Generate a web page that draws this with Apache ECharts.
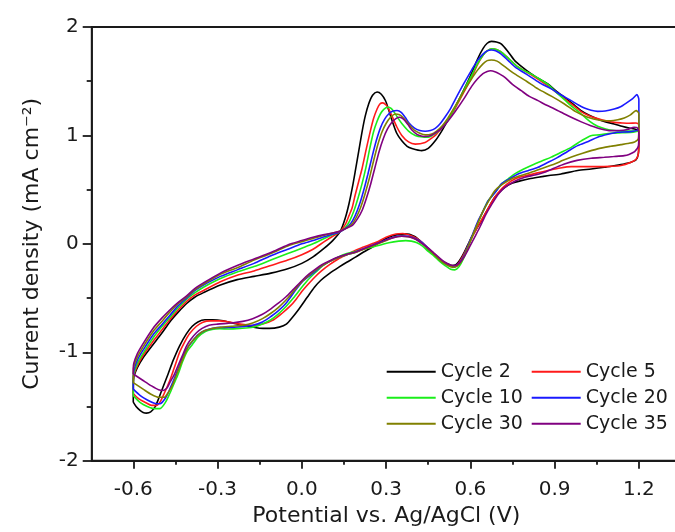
<!DOCTYPE html>
<html><head><meta charset="utf-8">
<script src="https://cdn.jsdelivr.net/npm/echarts@6/dist/echarts.min.js"></script>
<style>html,body{margin:0;padding:0;background:#fff}#c{width:675px;height:532px}</style>
</head><body><div id="c"></div>
<script>
const seriesNames = ['Cycle 2','Cycle 5','Cycle 10','Cycle 20','Cycle 30','Cycle 35'];
const xTickLabels = [-0.6,-0.3,0,0.3,0.6,0.9,1.2];
const xMinorTicks = [-0.45,-0.15,0.15,0.45,0.75,1.05];
const yTickLabels = [-2,-1,0,1,2];

const cycle2 = [[-0.600,-1.46],[-0.600,-1.35],[-0.598,-1.23],[-0.585,-1.14],[-0.565,-1.05],[-0.53,-0.93],[-0.50,-0.83],[-0.47,-0.72],[-0.44,-0.63],[-0.41,-0.55],[-0.38,-0.49],[-0.35,-0.45],[-0.29,-0.38],[-0.23,-0.33],[-0.17,-0.30],[-0.11,-0.27],[-0.05,-0.23],[0.0,-0.18],[0.04,-0.12],[0.08,-0.04],[0.11,0.03],[0.138,0.12],[0.155,0.24],[0.168,0.37],[0.18,0.52],[0.191,0.68],[0.203,0.86],[0.215,1.04],[0.226,1.18],[0.238,1.29],[0.252,1.37],[0.268,1.40],[0.283,1.38],[0.298,1.32],[0.31,1.23],[0.321,1.14],[0.338,1.02],[0.356,0.95],[0.375,0.90],[0.392,0.88],[0.427,0.86],[0.45,0.88],[0.475,0.95],[0.498,1.04],[0.52,1.14],[0.546,1.26],[0.575,1.41],[0.604,1.57],[0.625,1.70],[0.645,1.80],[0.66,1.85],[0.675,1.867],[0.693,1.862],[0.711,1.843],[0.735,1.77],[0.758,1.69],[0.785,1.63],[0.817,1.567],[0.846,1.52],[0.876,1.475],[0.905,1.41],[0.935,1.351],[0.965,1.29],[0.994,1.229],[1.025,1.185],[1.053,1.152],[1.082,1.125],[1.112,1.106],[1.14,1.085],[1.165,1.068],[1.19,1.055],[1.2,1.04],[1.2,0.93],[1.198,0.83],[1.19,0.775],[1.17,0.75],[1.148,0.737],[1.11,0.72],[1.077,0.706],[1.03,0.69],[0.982,0.676],[0.923,0.645],[0.88,0.63],[0.841,0.614],[0.81,0.6],[0.781,0.583],[0.75,0.56],[0.723,0.522],[0.705,0.48],[0.687,0.43],[0.664,0.33],[0.64,0.215],[0.62,0.13],[0.60,0.04],[0.58,-0.07],[0.565,-0.14],[0.55,-0.19],[0.534,-0.20],[0.515,-0.18],[0.498,-0.154],[0.474,-0.108],[0.45,-0.05],[0.427,0.015],[0.40,0.07],[0.368,0.092],[0.34,0.085],[0.309,0.061],[0.28,0.02],[0.25,-0.031],[0.22,-0.075],[0.191,-0.123],[0.16,-0.17],[0.132,-0.215],[0.10,-0.27],[0.067,-0.338],[0.045,-0.40],[0.02,-0.49],[-0.01,-0.60],[-0.033,-0.676],[-0.055,-0.74],[-0.08,-0.768],[-0.115,-0.78],[-0.151,-0.778],[-0.19,-0.76],[-0.234,-0.737],[-0.28,-0.71],[-0.317,-0.70],[-0.345,-0.70],[-0.37,-0.72],[-0.39,-0.76],[-0.411,-0.83],[-0.435,-0.94],[-0.458,-1.075],[-0.476,-1.2],[-0.494,-1.32],[-0.51,-1.43],[-0.523,-1.506],[-0.538,-1.55],[-0.553,-1.561],[-0.565,-1.555],[-0.576,-1.536],[-0.59,-1.50],[-0.600,-1.46]];

const cycle5 = [[-0.600,-1.38],[-0.600,-1.30],[-0.598,-1.21],[-0.585,-1.12],[-0.565,-1.03],[-0.53,-0.90],[-0.50,-0.80],[-0.47,-0.70],[-0.44,-0.61],[-0.41,-0.53],[-0.38,-0.47],[-0.35,-0.43],[-0.29,-0.35],[-0.23,-0.29],[-0.17,-0.25],[-0.11,-0.20],[-0.05,-0.15],[0.0,-0.10],[0.04,-0.05],[0.08,0.02],[0.11,0.07],[0.135,0.11],[0.155,0.18],[0.168,0.26],[0.179,0.33],[0.19,0.45],[0.203,0.58],[0.215,0.70],[0.23,0.88],[0.244,1.04],[0.256,1.16],[0.268,1.244],[0.278,1.29],[0.288,1.30],[0.30,1.28],[0.31,1.24],[0.321,1.18],[0.338,1.08],[0.356,1.00],[0.38,0.94],[0.404,0.92],[0.439,0.935],[0.46,0.97],[0.475,1.00],[0.498,1.07],[0.522,1.15],[0.546,1.25],[0.575,1.39],[0.604,1.53],[0.625,1.65],[0.645,1.74],[0.66,1.78],[0.678,1.80],[0.695,1.79],[0.715,1.76],[0.74,1.70],[0.765,1.64],[0.79,1.60],[0.817,1.56],[0.846,1.51],[0.876,1.46],[0.905,1.40],[0.935,1.34],[0.965,1.28],[0.994,1.22],[1.025,1.18],[1.053,1.155],[1.082,1.135],[1.112,1.12],[1.14,1.115],[1.165,1.112],[1.19,1.115],[1.2,1.10],[1.2,0.95],[1.198,0.83],[1.19,0.78],[1.17,0.75],[1.136,0.722],[1.10,0.715],[1.053,0.712],[1.0,0.712],[0.959,0.712],[0.92,0.70],[0.876,0.676],[0.84,0.655],[0.80,0.63],[0.76,0.60],[0.73,0.55],[0.705,0.49],[0.687,0.43],[0.664,0.33],[0.64,0.22],[0.62,0.13],[0.60,0.03],[0.58,-0.08],[0.565,-0.15],[0.55,-0.20],[0.535,-0.21],[0.515,-0.19],[0.50,-0.16],[0.475,-0.10],[0.45,-0.04],[0.43,0.01],[0.41,0.05],[0.385,0.08],[0.36,0.095],[0.335,0.09],[0.30,0.06],[0.27,0.02],[0.25,0.00],[0.22,-0.03],[0.19,-0.06],[0.16,-0.10],[0.13,-0.14],[0.10,-0.19],[0.07,-0.25],[0.045,-0.31],[0.02,-0.38],[0.0,-0.44],[-0.02,-0.51],[-0.04,-0.57],[-0.07,-0.64],[-0.10,-0.70],[-0.14,-0.74],[-0.175,-0.753],[-0.22,-0.74],[-0.26,-0.72],[-0.293,-0.71],[-0.325,-0.71],[-0.352,-0.722],[-0.375,-0.76],[-0.40,-0.83],[-0.42,-0.92],[-0.435,-1.0],[-0.455,-1.15],[-0.47,-1.26],[-0.49,-1.38],[-0.505,-1.46],[-0.517,-1.49],[-0.535,-1.49],[-0.555,-1.465],[-0.58,-1.43],[-0.600,-1.38]];

const cycle10 = [[-0.600,-1.40],[-0.600,-1.30],[-0.598,-1.20],[-0.585,-1.10],[-0.565,-1.01],[-0.53,-0.87],[-0.50,-0.77],[-0.47,-0.68],[-0.44,-0.59],[-0.41,-0.51],[-0.38,-0.45],[-0.35,-0.40],[-0.29,-0.32],[-0.23,-0.26],[-0.17,-0.21],[-0.11,-0.15],[-0.05,-0.09],[0.0,-0.04],[0.04,0.0],[0.08,0.05],[0.11,0.085],[0.135,0.11],[0.155,0.15],[0.17,0.21],[0.185,0.30],[0.20,0.42],[0.215,0.56],[0.228,0.70],[0.242,0.88],[0.255,1.03],[0.268,1.13],[0.28,1.20],[0.292,1.24],[0.305,1.26],[0.318,1.25],[0.33,1.21],[0.345,1.15],[0.356,1.11],[0.38,1.04],[0.404,1.00],[0.43,0.985],[0.451,0.983],[0.47,1.01],[0.486,1.04],[0.51,1.11],[0.535,1.21],[0.56,1.33],[0.585,1.46],[0.604,1.55],[0.625,1.66],[0.645,1.74],[0.66,1.78],[0.678,1.80],[0.695,1.79],[0.715,1.76],[0.74,1.70],[0.765,1.64],[0.79,1.60],[0.817,1.565],[0.846,1.52],[0.876,1.47],[0.905,1.40],[0.935,1.33],[0.965,1.26],[0.994,1.20],[1.025,1.13],[1.053,1.085],[1.082,1.06],[1.112,1.045],[1.14,1.04],[1.165,1.04],[1.185,1.04],[1.2,1.04],[1.18,1.03],[1.14,1.025],[1.1,1.02],[1.06,1.005],[1.029,0.998],[0.995,0.95],[0.959,0.89],[0.92,0.84],[0.888,0.80],[0.86,0.77],[0.829,0.737],[0.79,0.69],[0.758,0.645],[0.735,0.60],[0.711,0.553],[0.69,0.48],[0.664,0.40],[0.645,0.30],[0.628,0.20],[0.61,0.09],[0.59,-0.04],[0.575,-0.14],[0.56,-0.21],[0.545,-0.24],[0.53,-0.235],[0.51,-0.20],[0.49,-0.16],[0.47,-0.11],[0.45,-0.07],[0.43,-0.02],[0.41,0.01],[0.39,0.025],[0.37,0.03],[0.345,0.025],[0.31,0.01],[0.28,-0.01],[0.25,-0.03],[0.22,-0.05],[0.19,-0.07],[0.16,-0.09],[0.13,-0.12],[0.10,-0.16],[0.075,-0.20],[0.05,-0.26],[0.02,-0.338],[0.0,-0.40],[-0.03,-0.50],[-0.057,-0.58],[-0.085,-0.65],[-0.11,-0.70],[-0.14,-0.74],[-0.175,-0.77],[-0.22,-0.78],[-0.26,-0.785],[-0.293,-0.783],[-0.32,-0.79],[-0.345,-0.81],[-0.37,-0.86],[-0.39,-0.93],[-0.41,-1.00],[-0.425,-1.09],[-0.44,-1.2],[-0.455,-1.29],[-0.47,-1.38],[-0.485,-1.46],[-0.505,-1.52],[-0.525,-1.52],[-0.55,-1.50],[-0.575,-1.465],[-0.600,-1.40]];

const cycle20 = [[-0.600,-1.34],[-0.600,-1.25],[-0.598,-1.17],[-0.585,-1.07],[-0.565,-0.98],[-0.53,-0.84],[-0.50,-0.75],[-0.47,-0.66],[-0.44,-0.57],[-0.41,-0.50],[-0.38,-0.43],[-0.35,-0.38],[-0.29,-0.30],[-0.23,-0.24],[-0.17,-0.18],[-0.11,-0.11],[-0.05,-0.05],[0.0,0.0],[0.04,0.03],[0.08,0.065],[0.11,0.09],[0.135,0.11],[0.155,0.14],[0.175,0.19],[0.19,0.26],[0.205,0.36],[0.22,0.49],[0.235,0.64],[0.25,0.80],[0.265,0.95],[0.28,1.07],[0.295,1.15],[0.31,1.20],[0.325,1.225],[0.339,1.23],[0.355,1.21],[0.37,1.16],[0.38,1.12],[0.40,1.07],[0.42,1.045],[0.439,1.038],[0.458,1.045],[0.475,1.065],[0.49,1.10],[0.51,1.17],[0.53,1.25],[0.546,1.33],[0.575,1.47],[0.604,1.60],[0.625,1.69],[0.645,1.75],[0.66,1.78],[0.675,1.788],[0.69,1.78],[0.71,1.75],[0.735,1.69],[0.76,1.63],[0.79,1.58],[0.817,1.536],[0.85,1.48],[0.888,1.429],[0.925,1.37],[0.959,1.321],[0.985,1.28],[1.006,1.253],[1.03,1.232],[1.053,1.222],[1.08,1.225],[1.112,1.244],[1.135,1.265],[1.159,1.305],[1.178,1.34],[1.193,1.376],[1.2,1.33],[1.2,1.20],[1.2,1.10],[1.195,1.05],[1.17,1.035],[1.124,1.029],[1.09,1.01],[1.053,0.983],[1.02,0.945],[0.982,0.906],[0.945,0.85],[0.911,0.798],[0.875,0.75],[0.841,0.706],[0.805,0.675],[0.77,0.645],[0.74,0.60],[0.711,0.553],[0.69,0.48],[0.664,0.399],[0.645,0.30],[0.628,0.215],[0.61,0.10],[0.59,-0.03],[0.575,-0.12],[0.56,-0.18],[0.545,-0.21],[0.53,-0.205],[0.51,-0.18],[0.49,-0.14],[0.47,-0.09],[0.45,-0.04],[0.43,0.01],[0.404,0.05],[0.38,0.07],[0.356,0.075],[0.33,0.065],[0.309,0.046],[0.28,0.015],[0.25,-0.015],[0.22,-0.045],[0.191,-0.077],[0.16,-0.10],[0.132,-0.123],[0.10,-0.16],[0.073,-0.2],[0.05,-0.25],[0.025,-0.3],[0.005,-0.34],[-0.02,-0.42],[-0.057,-0.55],[-0.085,-0.62],[-0.11,-0.67],[-0.14,-0.72],[-0.175,-0.75],[-0.22,-0.765],[-0.26,-0.77],[-0.29,-0.77],[-0.32,-0.78],[-0.345,-0.80],[-0.37,-0.84],[-0.39,-0.90],[-0.41,-0.97],[-0.425,-1.05],[-0.44,-1.15],[-0.455,-1.25],[-0.47,-1.34],[-0.485,-1.42],[-0.505,-1.475],[-0.525,-1.47],[-0.55,-1.44],[-0.575,-1.40],[-0.600,-1.34]];

const cycle30 = [[-0.600,-1.28],[-0.600,-1.20],[-0.598,-1.13],[-0.585,-1.04],[-0.565,-0.95],[-0.53,-0.81],[-0.50,-0.72],[-0.47,-0.63],[-0.44,-0.55],[-0.41,-0.49],[-0.38,-0.42],[-0.35,-0.37],[-0.29,-0.28],[-0.23,-0.22],[-0.17,-0.15],[-0.11,-0.09],[-0.05,-0.02],[0.0,0.02],[0.04,0.05],[0.08,0.08],[0.11,0.10],[0.135,0.115],[0.155,0.14],[0.178,0.18],[0.195,0.25],[0.21,0.34],[0.225,0.46],[0.24,0.60],[0.255,0.76],[0.27,0.91],[0.285,1.03],[0.3,1.11],[0.315,1.165],[0.333,1.198],[0.348,1.19],[0.362,1.16],[0.38,1.105],[0.40,1.05],[0.42,1.02],[0.44,1.005],[0.46,1.01],[0.48,1.04],[0.5,1.09],[0.52,1.16],[0.546,1.27],[0.575,1.40],[0.604,1.52],[0.625,1.60],[0.645,1.66],[0.66,1.69],[0.675,1.696],[0.695,1.685],[0.72,1.64],[0.74,1.60],[0.758,1.567],[0.8,1.50],[0.841,1.429],[0.89,1.36],[0.935,1.29],[0.975,1.22],[1.018,1.167],[1.06,1.14],[1.1,1.136],[1.125,1.145],[1.148,1.161],[1.17,1.19],[1.19,1.229],[1.2,1.20],[1.2,1.08],[1.198,0.97],[1.185,0.94],[1.16,0.925],[1.136,0.915],[1.1,0.90],[1.053,0.876],[1.0,0.835],[0.96,0.80],[0.93,0.77],[0.9,0.737],[0.86,0.70],[0.817,0.66],[0.78,0.63],[0.746,0.599],[0.715,0.55],[0.687,0.49],[0.664,0.39],[0.645,0.30],[0.628,0.20],[0.61,0.09],[0.59,-0.04],[0.575,-0.13],[0.56,-0.19],[0.545,-0.215],[0.53,-0.21],[0.51,-0.185],[0.49,-0.145],[0.47,-0.095],[0.45,-0.045],[0.43,0.0],[0.404,0.045],[0.38,0.065],[0.356,0.07],[0.33,0.06],[0.309,0.04],[0.28,0.01],[0.25,-0.02],[0.22,-0.05],[0.191,-0.08],[0.16,-0.10],[0.132,-0.125],[0.10,-0.16],[0.073,-0.2],[0.05,-0.24],[0.025,-0.29],[0.0,-0.35],[-0.03,-0.44],[-0.057,-0.52],[-0.085,-0.59],[-0.11,-0.64],[-0.14,-0.69],[-0.175,-0.73],[-0.21,-0.75],[-0.25,-0.76],[-0.29,-0.77],[-0.32,-0.78],[-0.345,-0.80],[-0.36,-0.82],[-0.38,-0.87],[-0.40,-0.93],[-0.415,-1.01],[-0.43,-1.10],[-0.445,-1.2],[-0.46,-1.30],[-0.475,-1.37],[-0.49,-1.415],[-0.51,-1.415],[-0.535,-1.39],[-0.565,-1.34],[-0.600,-1.28]];

const cycle35 = [[-0.600,-1.20],[-0.600,-1.15],[-0.598,-1.10],[-0.585,-1.01],[-0.565,-0.92],[-0.53,-0.78],[-0.50,-0.69],[-0.47,-0.61],[-0.44,-0.54],[-0.41,-0.48],[-0.38,-0.41],[-0.35,-0.36],[-0.29,-0.27],[-0.23,-0.20],[-0.17,-0.14],[-0.11,-0.08],[-0.05,-0.01],[0.0,0.03],[0.04,0.06],[0.08,0.085],[0.11,0.10],[0.135,0.115],[0.155,0.14],[0.18,0.17],[0.198,0.23],[0.215,0.31],[0.23,0.42],[0.245,0.55],[0.26,0.70],[0.275,0.85],[0.29,0.97],[0.305,1.06],[0.32,1.12],[0.335,1.155],[0.348,1.167],[0.362,1.15],[0.378,1.10],[0.392,1.05],[0.41,1.01],[0.425,0.995],[0.44,0.99],[0.46,1.0],[0.48,1.03],[0.5,1.07],[0.52,1.13],[0.546,1.22],[0.575,1.33],[0.604,1.45],[0.625,1.52],[0.645,1.57],[0.66,1.59],[0.672,1.597],[0.69,1.585],[0.705,1.565],[0.723,1.536],[0.75,1.47],[0.781,1.413],[0.81,1.36],[0.841,1.321],[0.87,1.28],[0.9,1.244],[0.93,1.205],[0.959,1.167],[0.995,1.125],[1.029,1.09],[1.065,1.06],[1.1,1.044],[1.13,1.045],[1.16,1.055],[1.183,1.075],[1.195,1.07],[1.2,1.0],[1.198,0.90],[1.185,0.85],[1.165,0.825],[1.148,0.814],[1.11,0.805],[1.077,0.798],[1.03,0.79],[0.98,0.77],[0.935,0.737],[0.9,0.70],[0.864,0.66],[0.83,0.635],[0.794,0.614],[0.76,0.58],[0.723,0.522],[0.70,0.46],[0.675,0.36],[0.655,0.27],[0.635,0.16],[0.615,0.06],[0.595,-0.04],[0.578,-0.12],[0.562,-0.175],[0.545,-0.2],[0.53,-0.195],[0.51,-0.17],[0.49,-0.13],[0.47,-0.085],[0.45,-0.04],[0.43,0.0],[0.404,0.045],[0.38,0.065],[0.356,0.07],[0.33,0.06],[0.309,0.045],[0.28,0.015],[0.25,-0.015],[0.22,-0.045],[0.191,-0.075],[0.16,-0.095],[0.132,-0.12],[0.10,-0.155],[0.073,-0.19],[0.05,-0.23],[0.025,-0.28],[0.0,-0.34],[-0.03,-0.42],[-0.057,-0.49],[-0.085,-0.55],[-0.11,-0.60],[-0.14,-0.65],[-0.175,-0.69],[-0.21,-0.715],[-0.25,-0.73],[-0.30,-0.74],[-0.33,-0.75],[-0.355,-0.78],[-0.375,-0.82],[-0.395,-0.88],[-0.41,-0.94],[-0.425,-1.03],[-0.44,-1.12],[-0.455,-1.21],[-0.47,-1.28],[-0.48,-1.33],[-0.494,-1.352],[-0.51,-1.345],[-0.535,-1.31],[-0.565,-1.26],[-0.600,-1.20]];

const seriesData = [cycle2, cycle5, cycle10, cycle20, cycle30, cycle35];
const seriesColors = ['#000000','#ff1a1a','#1aee1a','#1a1aff','#808000','#800080'];

const FONT = 'DejaVu Sans';
const INK = '#1a1a1a';
const chart = echarts.init(document.getElementById('c'), null, {renderer: 'canvas'});
const legendStyle = {
  orient: 'vertical', top: 361.7, padding: 0, itemWidth: 49, itemHeight: 2, itemGap: 6, icon: 'rect',
  textStyle: {fontFamily: FONT, fontSize: 19, lineHeight: 20, color: INK}
};
chart.setOption({
  animation: false,
  backgroundColor: '#ffffff',
  grid: {left: 91.7, top: 27, right: -6, bottom: 71.3, show: true, borderColor: INK, borderWidth: 1.8,
         backgroundColor: 'transparent', outerBoundsMode: 'none', containLabel: false},
  legend: [
    Object.assign({data: [seriesNames[0], seriesNames[2], seriesNames[4]], left: 386.7}, legendStyle),
    Object.assign({data: [seriesNames[1], seriesNames[3], seriesNames[5]], left: 531.7}, legendStyle)
  ],
  xAxis: [
    {
      type: 'value', min: -0.748, max: 1.35, position: 'bottom',
      axisLine: {show: true, onZero: false, lineStyle: {color: INK, width: 1.8}},
      axisTick: {show: true, customValues: xTickLabels, length: 8, lineStyle: {color: INK, width: 1.8}},
      axisLabel: {customValues: xTickLabels, formatter: v => v.toFixed(1), fontFamily: FONT, fontSize: 20, color: INK, margin: 19},
      splitLine: {show: false},
      name: 'Potential vs. Ag/AgCl (V)', nameLocation: 'middle', nameGap: 45,
      nameTextStyle: {fontFamily: FONT, fontSize: 22, color: INK}
    },
    {
      type: 'value', min: -0.748, max: 1.35, position: 'top', offset: -433.7,
      axisLine: {show: false},
      axisTick: {show: true, inside: true, customValues: xMinorTicks, length: 4, lineStyle: {color: INK, width: 1.8}},
      axisLabel: {show: false}, splitLine: {show: false}
    }
  ],
  yAxis: {
    type: 'value', min: -2, max: 2, interval: 1,
    axisLine: {show: true, onZero: false, lineStyle: {color: INK, width: 1.8}},
    axisTick: {show: true, length: 9, lineStyle: {color: INK, width: 1.8}},
    minorTick: {show: true, splitNumber: 2, length: 5, lineStyle: {color: INK, width: 1.8}},
    axisLabel: {customValues: yTickLabels, fontFamily: FONT, fontSize: 20, color: INK, margin: 13},
    splitLine: {show: false},
    name: 'Current density (mA cm⁻²)', nameLocation: 'middle', nameGap: 48, nameRotate: 90,
    nameTextStyle: {fontFamily: FONT, fontSize: 22, color: INK}
  },
  series: seriesData.map((d, i) => ({
    name: seriesNames[i], type: 'line', xAxisIndex: 0, data: d,
    symbol: 'none', smooth: 0.25, clip: false,
    lineStyle: {color: seriesColors[i], width: 1.6},
    itemStyle: {color: seriesColors[i]}
  }))
});
</script></body></html>
